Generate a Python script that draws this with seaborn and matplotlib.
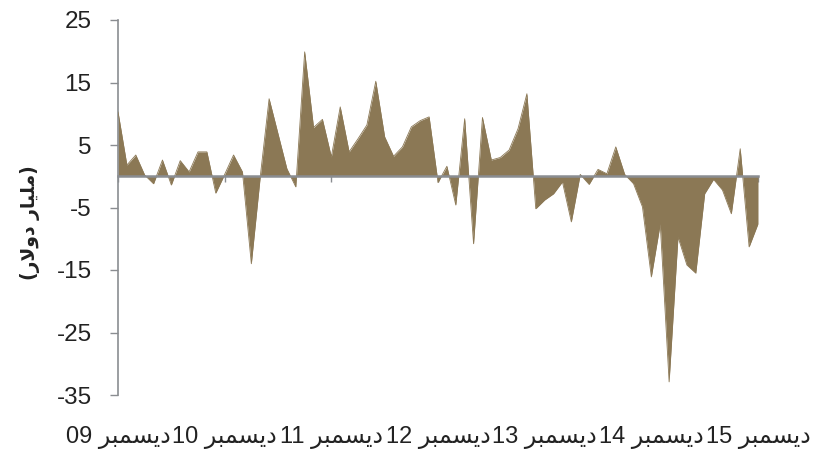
import matplotlib
matplotlib.use("Agg")
import matplotlib.pyplot as plt
import seaborn as sns
import pandas as pd

# Monthly net flows (billion dollars), December 2009 through December 2015
years = ["09", "10", "11", "12", "13", "14", "15"]
flows = [
    10.3, 1.8, 3.4, 0.2, -1.2, 2.6, -1.4, 2.5, 0.7, 3.9, 3.9, -2.7,
    0.3, 3.4, 0.7, -14.0, -0.1, 12.4, 6.8, 1.2, -1.7, 19.9, 7.8, 9.1,
    3.1, 11.1, 3.9, 6.0, 8.2, 15.2, 6.3, 3.2, 4.7, 7.9, 8.9, 9.5,
    -1.0, 1.6, -4.6, 9.2, -10.8, 9.4, 2.6, 3.0, 4.2, 7.6, 13.2, -5.2,
    -3.8, -2.8, -0.9, -7.3, 0.3, -1.3, 1.1, 0.4, 4.7, 0.3, -1.2, -4.9,
    -16.1, -7.6, -32.9, -9.7, -14.2, -15.5, -2.8, -0.5, -2.2, -6.0, 4.4, -11.3,
    -7.6,
]
y_ticks = [-35, -25, -15, -5, 5, 15, 25]

# matplotlib has no Arabic shaping, so the words are written with their
# contextual presentation forms, already in left-to-right display order.
DECEMBER = "\uFEAE\uFE92\uFEE4\uFEB4\uFEF3\uFEA9"            # ديسمبر
Y_LABEL = "(\uFEAD\uFEFB\uFEED\uFEA9 \uFEAD\uFE8E\uFEF4\uFEE0\uFEE3)"  # (مليار دولار)

FILL = "#8b7855"
GREY = "#8a8d91"
INK = "#222222"
TEXT_FONTS = ["Liberation Sans", "DejaVu Sans"]

df = pd.DataFrame({"month": range(len(flows)), "flow": flows})
tick_pos = [12 * i for i in range(len(years))]
tick_labels = [f"{yy} {DECEMBER}" for yy in years]

sns.set_theme(style="white")
plt.rcParams["font.family"] = TEXT_FONTS

fig = plt.figure(figsize=(8.13, 4.5), dpi=100)
ax = fig.add_axes([118 / 813, 1 - 395 / 450, 640 / 813, 375 / 450])

ax.fill_between(df["month"], df["flow"], 0, color=FILL, linewidth=0, zorder=2)
sns.lineplot(data=df, x="month", y="flow", ax=ax, color=FILL, linewidth=0.6, zorder=3)

ax.set_xlim(0, len(flows) - 1)
ax.set_ylim(-35, 25)
ax.set_yticks(y_ticks)
ax.set_yticklabels([str(v) for v in y_ticks], fontsize=17.5, color=INK)
ax.tick_params(axis="y", direction="out", length=6, width=1, color=GREY, pad=13, left=True)

for side in ("top", "right"):
    ax.spines[side].set_visible(False)
ax.spines["left"].set_color(GREY)
ax.spines["left"].set_linewidth(1.2)
ax.spines["bottom"].set_position(("data", 0))
ax.spines["bottom"].set_color(GREY)
ax.spines["bottom"].set_linewidth(1.8)
ax.spines["bottom"].set_zorder(4)

ax.set_xticks(tick_pos)
ax.tick_params(axis="x", direction="out", length=4, width=1, color=GREY,
               labelbottom=False, bottom=True)
ax.set_xlabel("")

# Month labels sit along the bottom of the plot area
sec = ax.secondary_xaxis(0.0)
sec.set_xticks(tick_pos)
sec.set_xticklabels(tick_labels, fontsize=17, color=INK)
sec.tick_params(axis="x", length=0, pad=22)
sec.spines["bottom"].set_visible(False)

ax.set_ylabel(Y_LABEL, fontsize=13.5, fontweight="bold", family="DejaVu Sans", color=INK)
ax.yaxis.set_label_coords(-0.122, 0.46)

fig.savefig("out.png", dpi=100)
